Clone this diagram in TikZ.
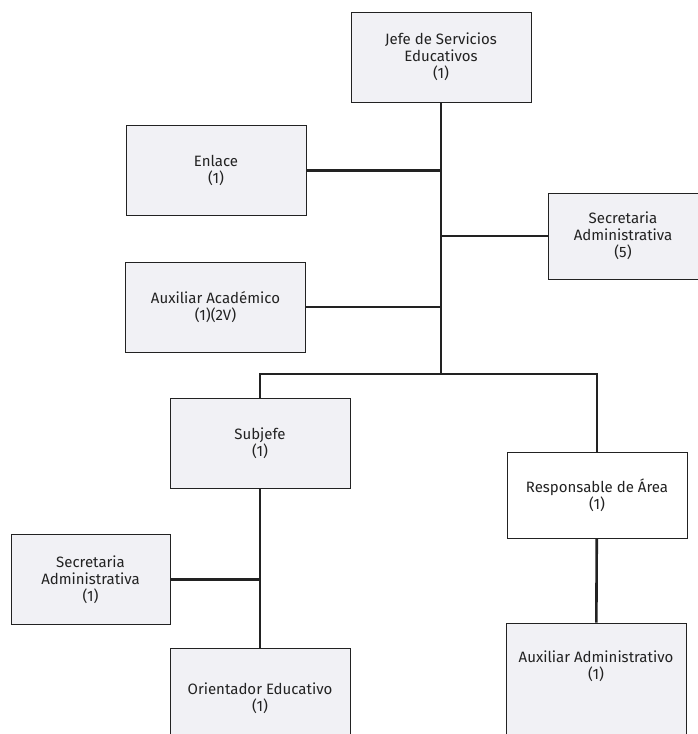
\documentclass[tikz,border=0pt]{standalone}
\usepackage{fontspec}
\setmainfont{Fira Sans}
\definecolor{papel}{HTML}{F1F1F5}
\definecolor{tinta}{HTML}{222222}
\tikzset{
  puesto/.style={draw=tinta, fill=papel, line width=0.9pt, minimum width=180pt,
    minimum height=90pt, align=center, text=tinta,
    font=\fontsize{15}{17}\selectfont},
  liga/.style={draw=tinta, line width=2.6pt}
}

\begin{document}
\begin{tikzpicture}[x=1pt, y=-1pt]
  \useasboundingbox (0,0) rectangle (698,734);
  % primer nivel
  \node[puesto] (jefe) at (441,57) {Jefe de Servicios\\Educativos\\(1)};
  \node[puesto] (enlace) at (216,170.5) {Enlace\\(1)};
  \node[puesto, minimum width=150pt, minimum height=86pt] (secre5) at (623,236) {Secretaria\\Administrativa\\(5)};
  \node[puesto] (auxacad) at (215.5,307) {Auxiliar Académico\\(1)(2V)};
  \coordinate (nudo) at (441,374);
  % segundo nivel
  \node[puesto] (subjefe) at (260,443.5) {Subjefe\\(1)};
  \node[puesto, fill=white, minimum height=86pt] (resp) at (597,495) {Responsable de Área\\(1)};
  \node[puesto, minimum width=159pt] (secre1) at (90.5,579.5) {Secretaria\\Administrativa\\(1)};
  \node[puesto, minimum height=100pt] (orient) at (260,698) {Orientador Educativo\\(1)};
  \node[puesto, minimum height=130pt] (auxadm) at (596,688) {Auxiliar Administrativo\\(1)\\[29pt]};
  % tronco y ramas
  \draw[liga] (jefe) -- (nudo);
  \draw[liga] (enlace) -- (enlace -| nudo);
  \draw[liga] (secre5) -- (secre5 -| nudo);
  \draw[liga] (auxacad) -- (auxacad -| nudo);
  \draw[liga] (subjefe) |- (nudo) -| (resp);
  \draw[liga] (subjefe) -- (orient);
  \draw[liga] (secre1) -- (secre1 -| subjefe);
  \draw[liga] (resp) -- (auxadm);
\end{tikzpicture}
\end{document}
